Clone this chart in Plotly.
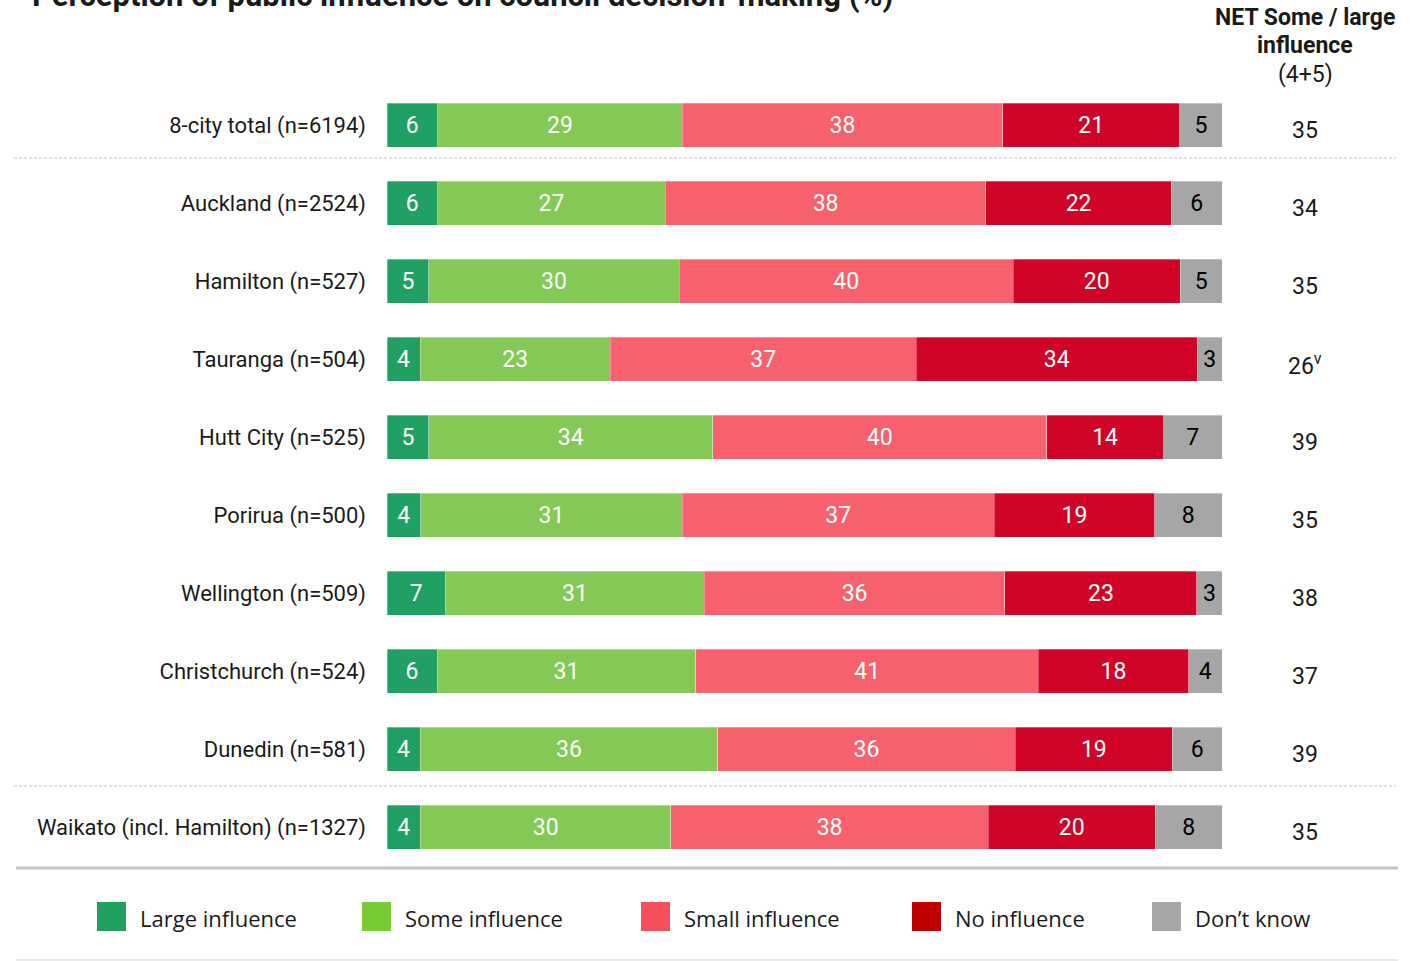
import plotly.graph_objects as go

# ---- data ----
categories = [
    "8-city total (n=6194)",
    "Auckland (n=2524)",
    "Hamilton (n=527)",
    "Tauranga (n=504)",
    "Hutt City (n=525)",
    "Porirua (n=500)",
    "Wellington (n=509)",
    "Christchurch (n=524)",
    "Dunedin (n=581)",
    "Waikato (incl. Hamilton) (n=1327)",
]
large_influence = [6, 6, 5, 4, 5, 4, 7, 6, 4, 4]
some_influence = [29, 27, 30, 23, 34, 31, 31, 31, 36, 30]
small_influence = [38, 38, 40, 37, 40, 37, 36, 41, 36, 38]
no_influence = [21, 22, 20, 34, 14, 19, 23, 18, 19, 20]
dont_know = [5, 6, 5, 3, 7, 8, 3, 4, 6, 8]
net_some_large = ["35", "34", "35", "26<sup>v</sup>", "39", "35", "38", "37", "39", "35"]

series_names = ["Large influence", "Some influence", "Small influence", "No influence", "Don\u2019t know"]
series_values = [large_influence, some_influence, small_influence, no_influence, dont_know]
bar_colors = ["#21a063", "#84c855", "#f7616e", "#cf0427", "#a6a6a6"]
legend_colors = ["#1fa05f", "#77cc33", "#f54e5c", "#c00000", "#a6a6a6"]
text_colors = ["white", "white", "white", "white", "black"]

FONT = "Roboto"

fig = go.Figure()
for name, vals, col, tcol in zip(series_names, series_values, bar_colors, text_colors):
    fig.add_trace(go.Bar(
        y=categories, x=vals, name=name, orientation="h",
        marker=dict(color=col, line=dict(color="rgba(255,255,255,0.6)", width=0.5)),
        text=[str(v) for v in vals], textposition="inside", insidetextanchor="middle",
        textangle=0, textfont=dict(family=FONT, size=23, color=tcol),
        width=0.564, hoverinfo="skip", showlegend=False,
    ))

W, H = 1422, 961
L, R, T, B = 387, 200, 86, 95
pw, ph = W - L - R, H - T - B

def px(xp):
    return (xp - L) / pw

def py(yp):
    return (H - B - yp) / ph

fig.update_layout(
    width=W, height=H, barmode="stack", barnorm="percent",
    margin=dict(l=L, r=R, t=T, b=B),
    plot_bgcolor="white", paper_bgcolor="white",
    font=dict(family=FONT, size=20, color="#1a1a1a"),
    xaxis=dict(visible=False, range=[0, 100], fixedrange=True),
    yaxis=dict(autorange="reversed", showgrid=False, zeroline=False, showline=False,
               ticks="", ticklabelstandoff=20, fixedrange=True,
               tickfont=dict(family=FONT, size=22, color="#1a1a1a")),
    uniformtext=dict(minsize=23, mode="show"),
)

# Title (partially cut at top, as in the reference)
fig.add_annotation(text="<b>Perception of public influence on council decision-making (%)</b>",
                   xref="paper", yref="paper", x=px(30), y=py(16), xanchor="left", yanchor="bottom",
                   showarrow=False, font=dict(family=FONT, size=31, color="#1a1a1a"))

# NET column header
for txt, yp in [("<b>NET Some / large</b>", 17), ("<b>influence</b>", 46), ("(4+5)", 74)]:
    fig.add_annotation(text=txt, xref="paper", yref="paper", x=px(1305), y=py(yp),
                       xanchor="center", yanchor="middle", showarrow=False,
                       font=dict(family=FONT, size=23, color="#1a1a1a"))

# NET values
for cat, v in zip(categories, net_some_large):
    fig.add_annotation(text=v, xref="paper", yref="y", x=px(1305), y=cat, yshift=-5,
                       xanchor="center", yanchor="middle", showarrow=False,
                       font=dict(family=FONT, size=23, color="#1a1a1a"))

# Separator lines
for yp in (158, 786):
    fig.add_shape(type="line", xref="paper", yref="paper", x0=px(14), x1=px(1396), y0=py(yp), y1=py(yp),
                  line=dict(color="#c4c4c4", width=1, dash="3px,2px"))
fig.add_shape(type="line", xref="paper", yref="paper", x0=px(16), x1=px(1398), y0=py(868), y1=py(868),
              line=dict(color="#c4c4c4", width=3))
fig.add_shape(type="line", xref="paper", yref="paper", x0=px(16), x1=px(1398), y0=py(960), y1=py(960),
              line=dict(color="#e2e2e2", width=1.5))

# Legend (manual)
legend_x = [97, 362, 641, 912, 1152]
for name, col, xl in zip(series_names, legend_colors, legend_x):
    fig.add_shape(type="rect", xref="paper", yref="paper", x0=px(xl), x1=px(xl + 29),
                  y0=py(931), y1=py(902), fillcolor=col, line=dict(width=0))
    fig.add_annotation(text=name, xref="paper", yref="paper", x=px(xl + 41), y=py(918),
                       xanchor="left", yanchor="middle", showarrow=False,
                       font=dict(family="Open Sans", size=22, color="#1a1a1a"))

fig.write_html("out.html", config={"displayModeBar": False},
               post_script="document.body.style.margin='0';document.body.style.overflow='hidden';")
